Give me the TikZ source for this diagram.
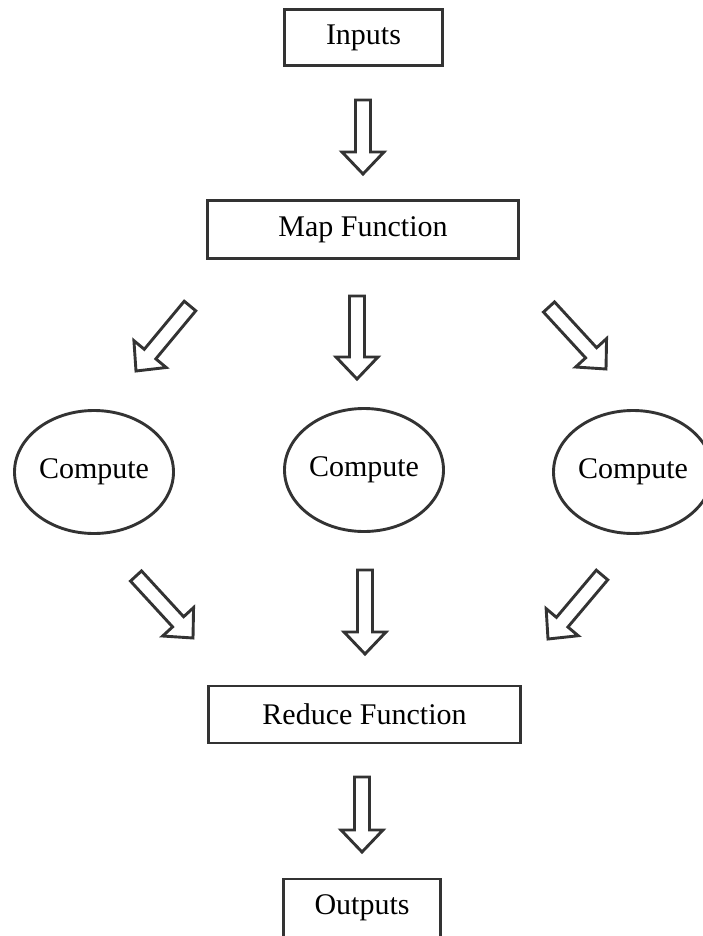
\documentclass[tikz,border=0pt]{standalone}
\usepackage{fontspec}
\setmainfont{Liberation Serif}
\usetikzlibrary{shapes.geometric,calc}

\tikzset{
  ink/.style={draw=black!80, line width=2.9pt},
  stagebox/.style={ink, rectangle, inner sep=0pt, font=\fontsize{30}{36}\selectfont},
  workblob/.style={ink, ellipse, inner sep=0pt, minimum width=159pt, minimum height=123pt,
                   font=\fontsize{30}{36}\selectfont},
  barrow/.style={ink, line join=miter, fill=white},
}

% hollow block arrow from #1 (tail centre) to #2 (tip)
\newcommand\blockarrow[2]{%
  \path coordinate (hb) at ($(#2)!22pt!(#1)$);
  \draw[barrow]
    ($(#1)!7.5pt!90:(#2)$) -- ($(hb)!7.5pt!-90:(#1)$) -- ($(hb)!21pt!-90:(#1)$)
    -- (#2) -- ($(hb)!21pt!90:(#1)$) -- ($(hb)!7.5pt!90:(#1)$)
    -- ($(#1)!7.5pt!-90:(#2)$) -- cycle;
}

\begin{document}
\begin{tikzpicture}[x=1pt, y=-1pt]
  \useasboundingbox (0,0) rectangle (702,936);

  % stages
  \node[stagebox, minimum width=158pt, minimum height=56pt] (inputs) at (363.5,37.5) {Inputs};
  \node[stagebox, minimum width=311pt, minimum height=58pt] (map) at (363,229.5) {Map Function};
  \node[workblob] (c1) at (94,472) {Compute};
  \node[workblob] (c2) at (364,470) {Compute};
  \node[workblob] (c3) at (633,472) {Compute};
  \node[stagebox, minimum width=312pt, minimum height=57pt] (reduce) at (364.5,714.5) {Reduce Function};
  \node[stagebox, minimum width=157pt, minimum height=58pt] (outputs) at (362,908) {Outputs};

  % arrow tails and tips
  \coordinate (a0s) at (363,100);  \coordinate (a0t) at (363,174);
  \coordinate (m1s) at (190,306);  \coordinate (m1t) at (136,371);
  \coordinate (m2s) at (357,296);  \coordinate (m2t) at (357,379);
  \coordinate (m3s) at (549,307);  \coordinate (m3t) at (606,369);
  \coordinate (r1s) at (136,576);  \coordinate (r1t) at (193,638);
  \coordinate (r2s) at (365,570);  \coordinate (r2t) at (365,654);
  \coordinate (r3s) at (602,575);  \coordinate (r3t) at (548,639);
  \coordinate (o0s) at (362,777);  \coordinate (o0t) at (362,852);

  \blockarrow{a0s}{a0t}
  \blockarrow{m1s}{m1t}
  \blockarrow{m2s}{m2t}
  \blockarrow{m3s}{m3t}
  \blockarrow{r1s}{r1t}
  \blockarrow{r2s}{r2t}
  \blockarrow{r3s}{r3t}
  \blockarrow{o0s}{o0t}
\end{tikzpicture}
\end{document}
